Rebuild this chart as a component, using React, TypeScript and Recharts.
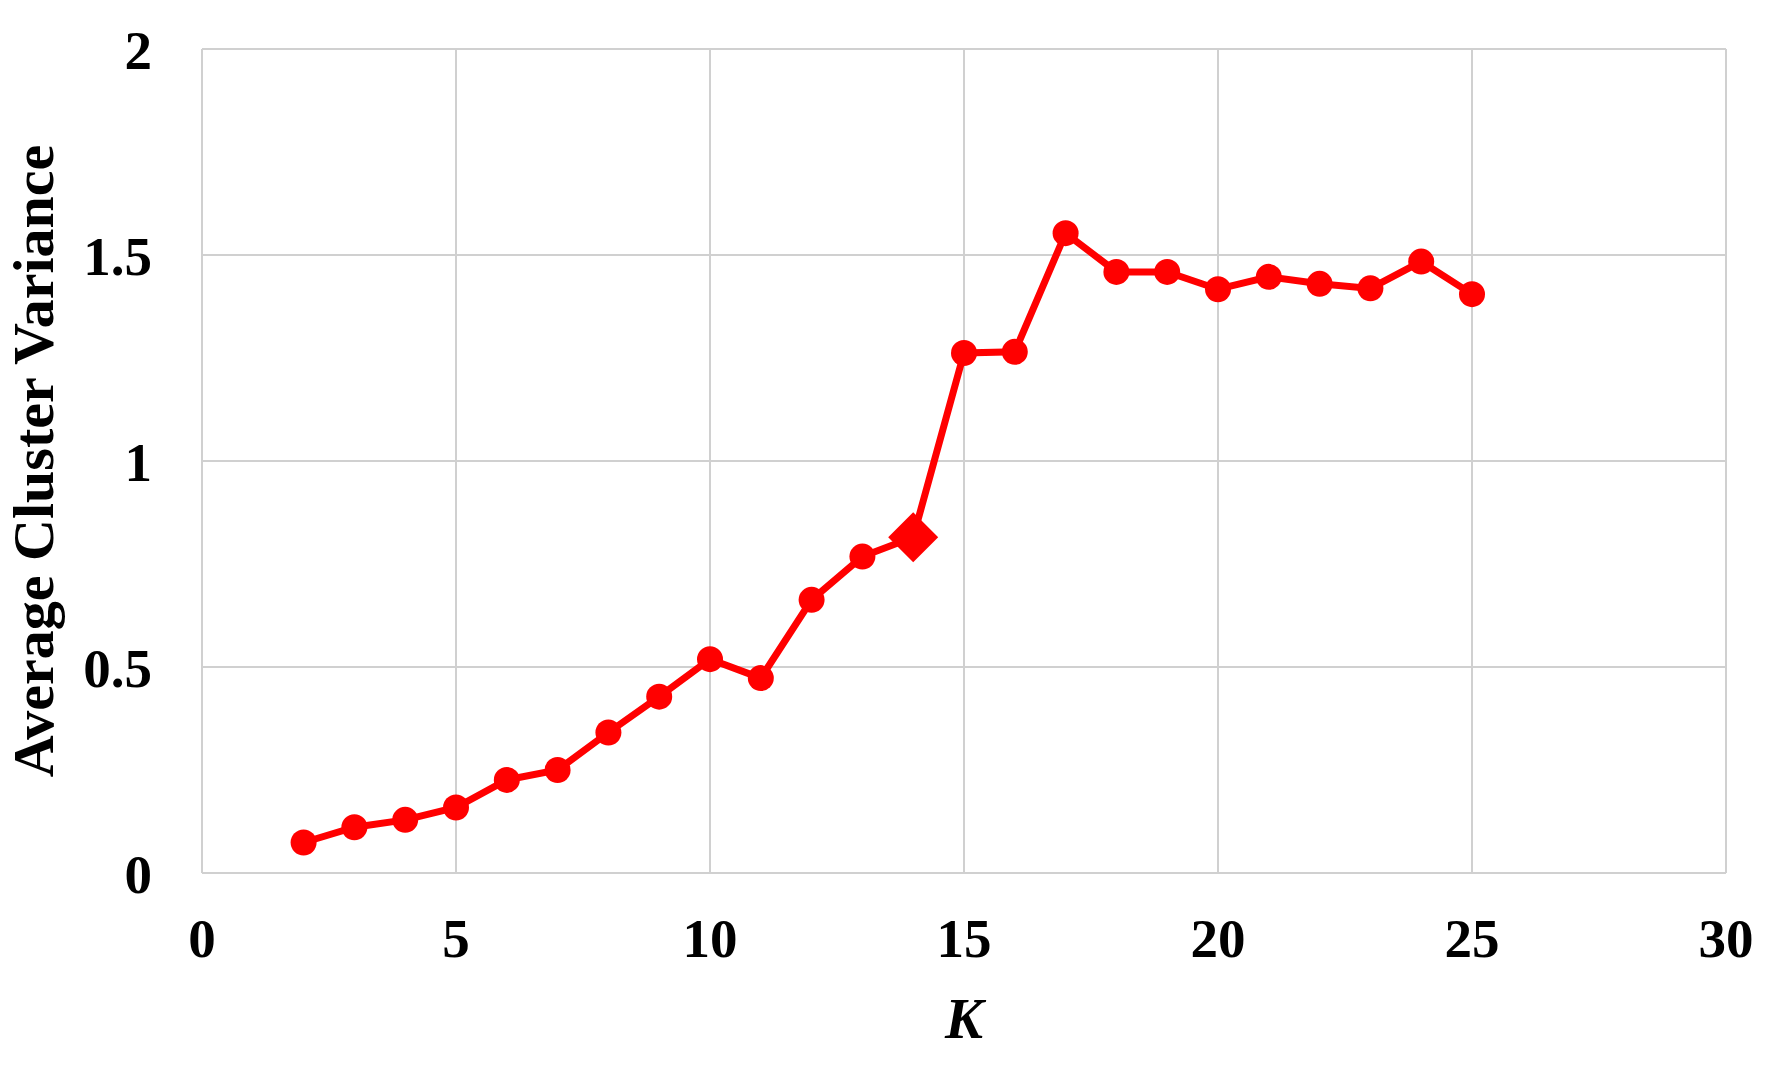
import { LineChart, Line, XAxis, YAxis, CartesianGrid, Label } from 'recharts';

const kValues = [2, 3, 4, 5, 6, 7, 8, 9, 10, 11, 12, 13, 14, 15, 16, 17, 18, 19, 20, 21, 22, 23, 24, 25];
const variance = [
  0.074, 0.111, 0.129, 0.159, 0.226, 0.25, 0.341, 0.428, 0.519, 0.473, 0.663, 0.768,
  0.815, 1.262, 1.265, 1.553, 1.459, 1.459, 1.417, 1.447, 1.43, 1.419, 1.484, 1.405,
];
const highlightK = 14;
const xTicks = [0, 5, 10, 15, 20, 25, 30];
const yTicks = [0, 0.5, 1, 1.5, 2];

const data = kValues.map((k, i) => ({ k, v: variance[i] }));

const RED = '#ff0000';
const GRID = '#d0d0d0';
const FONT = '"Liberation Serif", "Times New Roman", serif';

const tickStyle = { fontFamily: FONT, fontWeight: 700, fontSize: 55, fill: '#000' };

function Dot(props: any) {
  const { cx, cy, payload } = props;
  if (cx == null || cy == null) return null;
  if (payload.k === highlightK) {
    const h = 25;
    return (
      <polygon
        key={`d-${payload.k}`}
        points={`${cx},${cy - h} ${cx + h},${cy} ${cx},${cy + h} ${cx - h},${cy}`}
        fill={RED}
      />
    );
  }
  return <circle key={`d-${payload.k}`} cx={cx} cy={cy} r={13} fill={RED} />;
}

export default function App() {
  return (
    <div style={{ position: 'absolute', left: 0, top: 0, width: 1784, height: 1065, background: '#fff' }}>
      <LineChart width={1784} height={1065} data={data} margin={{ top: 49, right: 58, left: 0, bottom: 72 }}>
        <CartesianGrid stroke={GRID} strokeWidth={2} />
        <XAxis
          dataKey="k"
          type="number"
          domain={[0, 30]}
          ticks={xTicks}
          height={120}
          tickLine={false}
          tickMargin={39}
          axisLine={{ stroke: GRID, strokeWidth: 2 }}
          tick={tickStyle}
          interval={0}
        >
          <Label
            content={({ viewBox }: any) => (
              <text
                x={viewBox.x + viewBox.width / 2}
                y={1038}
                textAnchor="middle"
                fontFamily={FONT}
                fontWeight={700}
                fontStyle="italic"
                fontSize={57}
                fill="#000"
              >
                K
              </text>
            )}
          />
        </XAxis>
        <YAxis
          type="number"
          domain={[0, 2]}
          ticks={yTicks}
          width={202}
          tickLine={false}
          tickMargin={44}
          axisLine={{ stroke: GRID, strokeWidth: 2 }}
          tick={tickStyle}
          interval={0}
        >
          <Label
            content={({ viewBox }: any) => {
              const cy = viewBox.y + viewBox.height / 2;
              return (
                <text
                  x={53}
                  y={cy}
                  transform={`rotate(-90, 53, ${cy})`}
                  textAnchor="middle"
                  fontFamily={FONT}
                  fontWeight={700}
                  fontSize={58}
                  fill="#000"
                >
                  Average Cluster Variance
                </text>
              );
            }}
          />
        </YAxis>
        <Line
          type="linear"
          dataKey="v"
          stroke={RED}
          strokeWidth={7}
          dot={Dot}
          activeDot={false}
          isAnimationActive={false}
        />
      </LineChart>
    </div>
  );
}
